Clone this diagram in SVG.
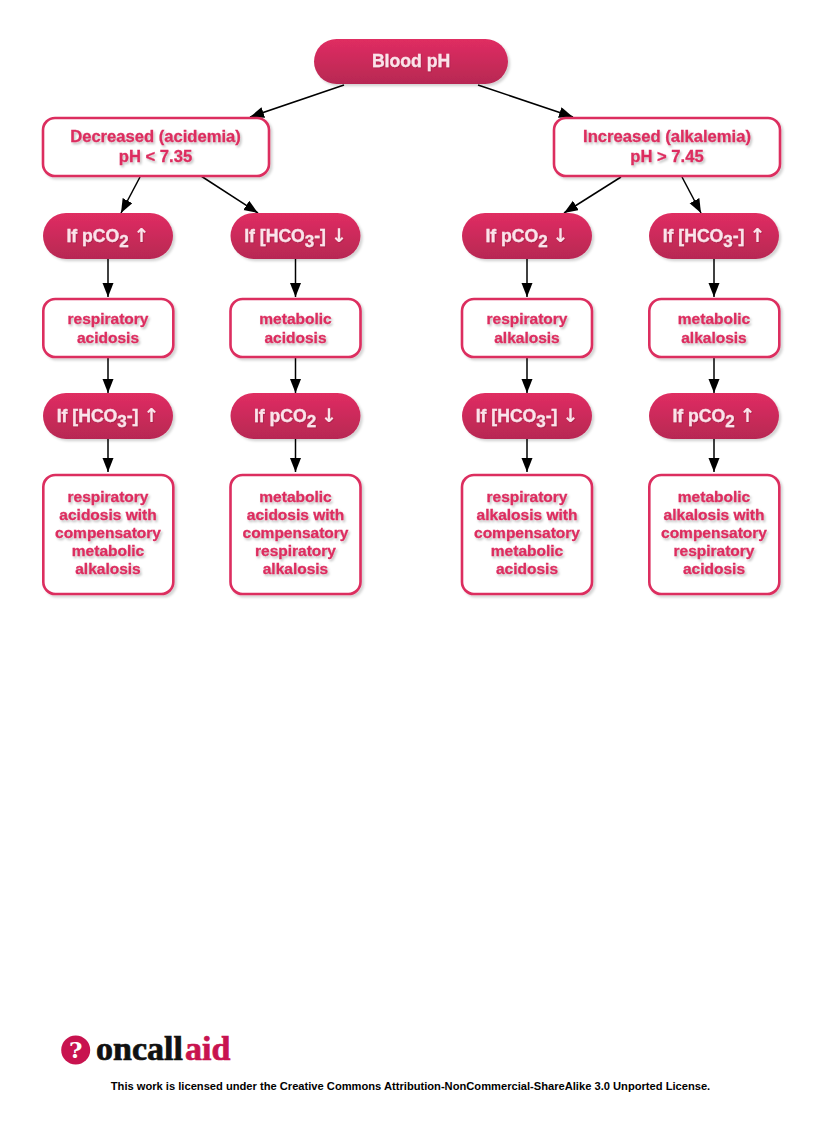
<svg xmlns="http://www.w3.org/2000/svg" width="825" height="1135" viewBox="0 0 825 1135">
<style>
text{font-family:"Liberation Sans",Arial,sans-serif;font-weight:700;text-anchor:middle}
.pill{fill:url(#pg);filter:url(#ns)}
.box{fill:#fff;stroke:#dc2d5f;stroke-width:2.6;filter:url(#ns)}
.pt{fill:#fbe3ea;font-size:17.6px;stroke:#fbe3ea;stroke-width:.3;filter:url(#ts1)}
.bt{fill:#dc2d5f;font-size:16.6px;stroke:#dc2d5f;stroke-width:.3;filter:url(#ts2)}
.st{fill:#dc2d5f;font-size:15.500px;stroke:#dc2d5f;stroke-width:.3;filter:url(#ts2)}
.sub{font-size:17px}
.ar{font-family:"DejaVu Sans",sans-serif;font-size:19px;stroke-width:0}
.logo{font-family:"Liberation Serif",serif;text-anchor:start;font-size:34px;stroke-width:.7}
#connectors line{stroke:#000;stroke-width:1.5;marker-end:url(#ah)}
</style>
<defs>
<linearGradient id="pg" x1="0" y1="0" x2="0" y2="1"><stop offset="0" stop-color="#e02d62"/><stop offset="1" stop-color="#b72853"/></linearGradient>
<filter id="ns" x="-10%" y="-15%" width="125%" height="135%"><feDropShadow dx="2.200" dy="2.200" stdDeviation="1.200" flood-color="#000" flood-opacity=".17"/></filter>
<filter id="ts1" x="-10%" y="-20%" width="120%" height="150%"><feDropShadow dx=".8" dy=".8" stdDeviation=".6" flood-color="#7a1535" flood-opacity=".45"/></filter>
<filter id="ts2" x="-10%" y="-20%" width="120%" height="150%"><feDropShadow dx="1.500" dy="2" stdDeviation=".8" flood-color="#000" flood-opacity=".25"/></filter>
<marker id="ah" markerUnits="userSpaceOnUse" markerWidth="15" markerHeight="12" refX="14" refY="5.500" orient="auto"><path d="M0 0L14 5.500L0 11z" fill="#000"/></marker>
</defs>
<rect width="825" height="1135" fill="#fff"/>
<g id="connectors">
<line x1="344" y1="85" x2="250" y2="117"/><line x1="478" y1="85" x2="573" y2="117"/>
<line x1="140" y1="177" x2="121" y2="213"/><line x1="201" y1="176" x2="258" y2="213"/>
<line x1="621" y1="177" x2="564" y2="213"/><line x1="682" y1="177" x2="701" y2="213"/>
<line x1="108" y1="259" x2="108" y2="297"/><line x1="108" y1="358" x2="108" y2="393"/><line x1="108" y1="439" x2="108" y2="472"/>
<line x1="295.500" y1="259" x2="295.500" y2="297"/><line x1="295.500" y1="358" x2="295.500" y2="393"/><line x1="295.500" y1="439" x2="295.500" y2="472"/>
<line x1="527" y1="259" x2="527" y2="297"/><line x1="527" y1="358" x2="527" y2="393"/><line x1="527" y1="439" x2="527" y2="472"/>
<line x1="714" y1="259" x2="714" y2="297"/><line x1="714" y1="358" x2="714" y2="393"/><line x1="714" y1="439" x2="714" y2="472"/>
</g>
<g id="root"><rect class="pill" x="314" y="39" width="194" height="45" rx="22.500"/><text class="pt" x="411" y="66.500">Blood pH</text></g>
<g id="dec"><rect class="box" x="43" y="118" width="226" height="58" rx="12"/><text class="bt" x="155.500" y="142">Decreased (acidemia)</text><text class="bt" x="155.500" y="162">pH &lt; 7.35</text></g>
<g id="inc"><rect class="box" x="554" y="118" width="226" height="58" rx="12"/><text class="bt" x="667" y="142">Increased (alkalemia)</text><text class="bt" x="667" y="162">pH &gt; 7.45</text></g>

<g id="c1p1"><rect class="pill" x="43" y="213" width="130" height="46" rx="23"/><text class="pt" x="108" y="242">If pCO<tspan class="sub" dy="5">2</tspan><tspan dy="-5"> </tspan><tspan class="ar">↑</tspan></text></g>
<g id="c1b1"><rect class="box" x="43.300" y="299" width="130" height="58" rx="12"/><text class="st" x="108" y="324">respiratory</text><text class="st" x="108" y="343">acidosis</text></g>
<g id="c1p2"><rect class="pill" x="43" y="393" width="130" height="46" rx="23"/><text class="pt" x="108" y="422">If [HCO<tspan class="sub" dy="5">3</tspan><tspan dy="-5">-] </tspan><tspan class="ar">↑</tspan></text></g>
<g id="c1b2"><rect class="box" x="43.300" y="475" width="130" height="119" rx="12"/><text class="st" x="108" y="502">respiratory</text><text class="st" x="108" y="520">acidosis with</text><text class="st" x="108" y="538">compensatory</text><text class="st" x="108" y="556">metabolic</text><text class="st" x="108" y="574">alkalosis</text></g>

<g id="c2p1"><rect class="pill" x="230.500" y="213" width="130" height="46" rx="23"/><text class="pt" x="295.500" y="242">If [HCO<tspan class="sub" dy="5">3</tspan><tspan dy="-5">-] </tspan><tspan class="ar">↓</tspan></text></g>
<g id="c2b1"><rect class="box" x="230.500" y="299" width="130" height="58" rx="12"/><text class="st" x="295.500" y="324">metabolic</text><text class="st" x="295.500" y="343">acidosis</text></g>
<g id="c2p2"><rect class="pill" x="230.500" y="393" width="130" height="46" rx="23"/><text class="pt" x="295.500" y="422">If pCO<tspan class="sub" dy="5">2</tspan><tspan dy="-5"> </tspan><tspan class="ar">↓</tspan></text></g>
<g id="c2b2"><rect class="box" x="230.500" y="475" width="130" height="119" rx="12"/><text class="st" x="295.500" y="502">metabolic</text><text class="st" x="295.500" y="520">acidosis with</text><text class="st" x="295.500" y="538">compensatory</text><text class="st" x="295.500" y="556">respiratory</text><text class="st" x="295.500" y="574">alkalosis</text></g>

<g id="c3p1"><rect class="pill" x="462" y="213" width="130" height="46" rx="23"/><text class="pt" x="527" y="242">If pCO<tspan class="sub" dy="5">2</tspan><tspan dy="-5"> </tspan><tspan class="ar">↓</tspan></text></g>
<g id="c3b1"><rect class="box" x="462" y="299" width="130" height="58" rx="12"/><text class="st" x="527" y="324">respiratory</text><text class="st" x="527" y="343">alkalosis</text></g>
<g id="c3p2"><rect class="pill" x="462" y="393" width="130" height="46" rx="23"/><text class="pt" x="527" y="422">If [HCO<tspan class="sub" dy="5">3</tspan><tspan dy="-5">-] </tspan><tspan class="ar">↓</tspan></text></g>
<g id="c3b2"><rect class="box" x="462" y="475" width="130" height="119" rx="12"/><text class="st" x="527" y="502">respiratory</text><text class="st" x="527" y="520">alkalosis with</text><text class="st" x="527" y="538">compensatory</text><text class="st" x="527" y="556">metabolic</text><text class="st" x="527" y="574">acidosis</text></g>

<g id="c4p1"><rect class="pill" x="649" y="213" width="130" height="46" rx="23"/><text class="pt" x="714" y="242">If [HCO<tspan class="sub" dy="5">3</tspan><tspan dy="-5">-] </tspan><tspan class="ar">↑</tspan></text></g>
<g id="c4b1"><rect class="box" x="649.300" y="299" width="130" height="58" rx="12"/><text class="st" x="714" y="324">metabolic</text><text class="st" x="714" y="343">alkalosis</text></g>
<g id="c4p2"><rect class="pill" x="649" y="393" width="130" height="46" rx="23"/><text class="pt" x="714" y="422">If pCO<tspan class="sub" dy="5">2</tspan><tspan dy="-5"> </tspan><tspan class="ar">↑</tspan></text></g>
<g id="c4b2"><rect class="box" x="649.300" y="475" width="130" height="119" rx="12"/><text class="st" x="714" y="502">metabolic</text><text class="st" x="714" y="520">alkalosis with</text><text class="st" x="714" y="538">compensatory</text><text class="st" x="714" y="556">respiratory</text><text class="st" x="714" y="574">acidosis</text></g>

<g id="logo">
<circle cx="75.700" cy="1050" r="14.500" fill="#c8134f"/>
<text x="75.700" y="1058" fill="#fff" font-size="23" style="font-family:'DejaVu Serif',serif">?</text>
<text class="logo" x="96" y="1060" fill="#111" stroke="#111">oncall</text>
<text class="logo" x="185" y="1060" fill="#c8134f" stroke="#c8134f">aid</text>
</g>
<text x="410.500" y="1090" fill="#000" font-size="11.150">This work is licensed under the Creative Commons Attribution-NonCommercial-ShareAlike 3.0 Unported License.</text>
</svg>
